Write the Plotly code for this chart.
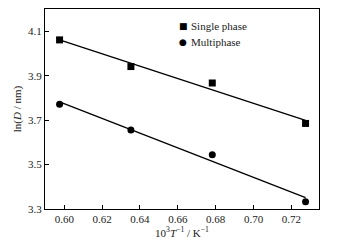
import numpy as np
import plotly.graph_objects as go

x = [0.5975, 0.6352, 0.6782, 0.7275]
single = [4.061, 3.941, 3.867, 3.685]
multi = [3.771, 3.656, 3.544, 3.333]
series_names = ["Single phase", "Multiphase"]

xa = np.array(x)
fig = go.Figure()
for ys, sym, name in [(single, "square", series_names[0]), (multi, "circle", series_names[1])]:
    p = np.polyfit(xa, np.array(ys), 1)
    xl = np.array([x[0], x[-1]])
    fig.add_trace(go.Scatter(x=xl, y=np.polyval(p, xl), mode="lines",
                             line=dict(color="black", width=1.3), showlegend=False, hoverinfo="skip"))
    fig.add_trace(go.Scatter(x=x, y=ys, mode="markers", name=name, showlegend=False,
                             marker=dict(symbol=sym, size=7, color="black")))

serif = "Liberation Serif, Times New Roman, serif"
font = dict(family=serif, size=11, color="#222")

# legend drawn as text entries
for i, (glyph, name, gsize) in enumerate([("■", series_names[0], 9), ("●", series_names[1], 9)]):
    ypix = 26 + 16 * i
    fig.add_annotation(xref="paper", yref="paper", x=(183 - 45) / 274, y=1 - (ypix - 9) / 200,
                       text=glyph, showarrow=False, xanchor="center", yanchor="middle",
                       font=dict(family="DejaVu Sans", size=gsize, color="black"))
    fig.add_annotation(xref="paper", yref="paper", x=(189 - 45) / 274, y=1 - (ypix - 9) / 200,
                       text=name, showarrow=False, xanchor="left", yanchor="middle",
                       font=dict(family=serif, size=11, color="#222"))

fig.update_layout(
    width=339, height=248, margin=dict(l=45, r=20, t=9, b=39),
    paper_bgcolor="white", plot_bgcolor="white", font=font, showlegend=False,
)
fig.update_xaxes(range=[0.5898, 0.7346], tickvals=[0.60, 0.62, 0.64, 0.66, 0.68, 0.70, 0.72],
                 ticktext=["0.60", "0.62", "0.64", "0.66", "0.68", "0.70", "0.72"],
                 ticks="inside", ticklen=4, tickcolor="black", showline=True, linecolor="black",
                 linewidth=1, mirror=True, showgrid=False, zeroline=False, automargin=False,
                 title=dict(text="10<sup>3</sup><i>T</i><sup>−1</sup> / K<sup>−1</sup>", standoff=2, font=dict(size=11)))
fig.update_yaxes(range=[3.3, 4.2], tickvals=[3.3, 3.5, 3.7, 3.9, 4.1],
                 ticktext=["3.3", "3.5", "3.7", "3.9", "4.1"],
                 ticks="inside", ticklen=4, tickcolor="black", showline=True, linecolor="black",
                 linewidth=1, mirror=True, showgrid=False, zeroline=False, automargin=False,
                 title=dict(text="ln(<i>D</i> / nm)", standoff=4, font=dict(size=11)))
fig.write_html("out.html", config={"displayModeBar": False},
               post_script="document.body.style.margin='0';document.body.style.padding='0';")
